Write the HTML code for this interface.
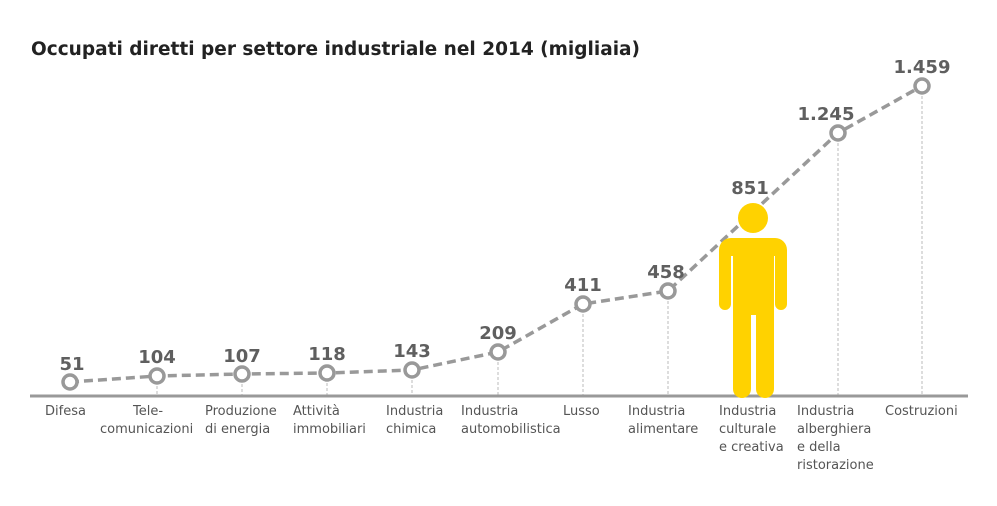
<!DOCTYPE html>
<html><head><style>
body{margin:0;background:#fff;}
svg text{font-family:"DejaVu Sans","Liberation Sans",sans-serif;}
</style></head><body>
<svg width="997" height="501" viewBox="0 0 997 501" xmlns="http://www.w3.org/2000/svg">
<text x="31" y="55" font-size="18.5" font-weight="bold" fill="#222" textLength="609" lengthAdjust="spacingAndGlyphs">Occupati diretti per settore industriale nel 2014 (migliaia)</text>
<g stroke="#bbb" stroke-width="1" stroke-dasharray="3 2">
<line x1="157" y1="376" x2="157" y2="396"/>
<line x1="242" y1="374" x2="242" y2="396"/>
<line x1="327" y1="373" x2="327" y2="396"/>
<line x1="412" y1="370" x2="412" y2="396"/>
<line x1="498" y1="352" x2="498" y2="396"/>
<line x1="583" y1="304" x2="583" y2="396"/>
<line x1="668" y1="291" x2="668" y2="396"/>
<line x1="838" y1="133" x2="838" y2="396"/>
<line x1="922" y1="86" x2="922" y2="396"/>
</g>
<line x1="30" y1="396" x2="968" y2="396" stroke="#999" stroke-width="3"/>
<polyline points="70,382 157,376 242,374 327,373 412,370 498,352 583,304 668,291 838,133 922,86" fill="none" stroke="#999" stroke-width="3.5" stroke-dasharray="9 5"/>
<g fill="#fff" stroke="#999" stroke-width="3.5">
<circle cx="70" cy="382" r="7"/><circle cx="157" cy="376" r="7"/><circle cx="242" cy="374" r="7"/><circle cx="327" cy="373" r="7"/><circle cx="412" cy="370" r="7"/><circle cx="498" cy="352" r="7"/><circle cx="583" cy="304" r="7"/><circle cx="668" cy="291" r="7"/><circle cx="838" cy="133" r="7"/><circle cx="922" cy="86" r="7"/>
</g>
<g fill="#ffd200">
<circle cx="753" cy="218" r="15"/>
<path d="M731 238 H775 A12 12 0 0 1 787 250 V304 A6 6 0 0 1 775 304 V256 H774 V389 A8 8 0 0 1 756 389 V315 H751 V389 A8 8 0 0 1 733 389 V256 H731 V304 A6 6 0 0 1 719 304 V250 A12 12 0 0 1 731 238 Z"/>
</g>
<g font-size="18" font-weight="bold" fill="#5f5f5f" text-anchor="middle">
<text x="72" y="370">51</text><text x="157" y="363">104</text><text x="242" y="362">107</text><text x="327" y="360">118</text><text x="412" y="357">143</text><text x="498" y="339">209</text><text x="583" y="291">411</text><text x="666" y="278">458</text><text x="750" y="194">851</text><text x="826" y="120">1.245</text><text x="922" y="73">1.459</text>
</g>
<g font-size="13" fill="#555">
<text x="45" y="415">Difesa</text>
<text x="148" y="415" text-anchor="middle">Tele-</text><text x="100" y="433">comunicazioni</text>
<text x="205" y="415">Produzione</text><text x="205" y="433">di energia</text>
<text x="293" y="415">Attività</text><text x="293" y="433">immobiliari</text>
<text x="386" y="415">Industria</text><text x="386" y="433">chimica</text>
<text x="461" y="415">Industria</text><text x="461" y="433">automobilistica</text>
<text x="563" y="415">Lusso</text>
<text x="628" y="415">Industria</text><text x="628" y="433">alimentare</text>
<text x="719" y="415">Industria</text><text x="719" y="433">culturale</text><text x="719" y="451">e creativa</text>
<text x="797" y="415">Industria</text><text x="797" y="433">alberghiera</text><text x="797" y="451">e della</text><text x="797" y="469">ristorazione</text>
<text x="885" y="415">Costruzioni</text>
</g>
</svg>
</body></html>
